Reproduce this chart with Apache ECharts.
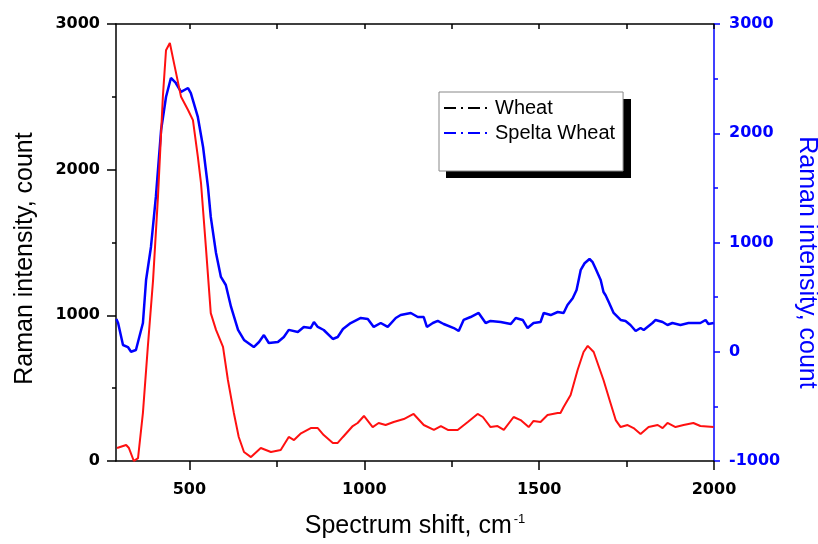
<!DOCTYPE html>
<html>
<head>
<meta charset="utf-8">
<script src="https://cdn.jsdelivr.net/npm/echarts@6/dist/echarts.min.js"></script>
<style>
  html, body { margin: 0; padding: 0; background: #fff; }
  #chart { width: 818px; height: 544px; }
</style>
</head>
<body>
<div id="chart"></div>
<script>
// Raman shift (cm-1) and intensity
const wheatShift = [293, 296, 319, 327, 341, 353, 367, 381, 396, 410, 424, 433, 444, 456, 476, 496, 510, 524, 533, 547,
  561, 576, 596, 610, 627, 641, 656, 676, 704, 733, 761, 784, 799, 819, 847, 867, 884, 910, 924, 939,
  967, 981, 999, 1024, 1041, 1061, 1084, 1113, 1141, 1170, 1199, 1219, 1239, 1267, 1296, 1324, 1339, 1361, 1381, 1399,
  1427, 1447, 1470, 1484, 1504, 1524, 1553, 1561, 1570, 1590, 1610, 1627, 1639, 1656, 1684, 1704, 1719, 1733, 1753, 1770,
  1790, 1813, 1839, 1853, 1867, 1890, 1913, 1941, 1961, 1999]
const wheatCount = [89, 96, 110, 89, 0, 20, 330, 783, 1242, 1813, 2500, 2820, 2870, 2730, 2500, 2410, 2340, 2090, 1910, 1470,
  1015, 900, 783, 556, 330, 165, 62, 27, 89, 62, 75, 165, 144, 190, 226, 226, 178, 124, 124, 165,
  240, 261, 309, 233, 261, 247, 268, 288, 323, 247, 213, 240, 213, 213, 268, 323, 302, 233, 240, 213,
  302, 281, 233, 275, 268, 316, 330, 330, 371, 453, 625, 748, 790, 748, 556, 398, 281, 233, 247, 226,
  185, 233, 247, 226, 261, 233, 247, 261, 240, 233]

const speltaShift = [291, 296, 310, 324, 333, 347, 367, 376, 390, 404, 419, 433, 447, 461, 476, 496, 504, 524, 539, 553,
  561, 576, 590, 604, 619, 639, 656, 684, 699, 713, 727, 753, 770, 784, 810, 827, 847, 856, 867, 884,
  910, 924, 939, 961, 990, 1010, 1027, 1047, 1067, 1090, 1104, 1133, 1153, 1170, 1179, 1196, 1210, 1227, 1256, 1270,
  1284, 1304, 1327, 1347, 1361, 1390, 1419, 1433, 1453, 1467, 1484, 1504, 1513, 1533, 1553, 1570, 1581, 1596, 1607, 1613,
  1619, 1630, 1644, 1653, 1661, 1676, 1684, 1690, 1699, 1713, 1733, 1747, 1761, 1776, 1790, 1799, 1824, 1833, 1853, 1867,
  1881, 1904, 1927, 1961, 1976, 1984, 1999]
const speltaCount = [300, 263, 62, 43, 0, 16, 263, 657, 959, 1417, 2030, 2332, 2506, 2460, 2378, 2414, 2368, 2149, 1874, 1508,
  1234, 904, 685, 611, 410, 200, 108, 43, 89, 153, 80, 89, 135, 200, 181, 227, 218, 272, 227, 199,
  117, 135, 208, 263, 309, 300, 227, 263, 227, 309, 336, 355, 318, 318, 227, 263, 282, 254, 217, 190,
  291, 318, 355, 263, 282, 272, 254, 309, 291, 217, 263, 272, 355, 336, 364, 355, 428, 490, 565, 657,
  750, 810, 849, 820, 764, 657, 547, 517, 455, 355, 291, 282, 245, 190, 217, 199, 263, 291, 272, 245,
  263, 245, 263, 263, 291, 254, 263]

const xMajor = [500, 1000, 1500, 2000]
const xMinor = [750, 1250, 1750]
const xAll = [500, 750, 1000, 1250, 1500, 1750, 2000]

const chart = echarts.init(document.getElementById('chart'), null, { renderer: 'canvas' })

const titleFont = 'Liberation Sans, Arial, sans-serif'
const tickFont = 'DejaVu Sans, sans-serif'
const blue = '#0000ff'
const red = '#ff1010'
const plain = (v) => String(v)

const pairs = (xs, ys) => xs.map((x, i) => [x, ys[i]])

chart.setOption({
  animation: false,
  backgroundColor: '#fff',
  grid: { left: 116, right: 104, top: 24, bottom: 83, outerBoundsMode: 'none', containLabel: false },
  // hard drop shadow behind the legend box
  graphic: [{
    type: 'rect', left: 446, top: 99, z: 1,
    shape: { width: 185, height: 79 },
    style: { fill: '#000' }
  }],
  legend: {
    orient: 'vertical',
    left: 439,
    top: 92,
    z: 10,
    padding: [6, 8, 28, 4],
    itemWidth: 48,
    itemHeight: 20,
    itemGap: 5,
    backgroundColor: '#fff',
    borderColor: '#888',
    borderWidth: 1,
    textStyle: { fontFamily: titleFont, fontSize: 20, color: '#000', padding: [0, 0, 0, -2] },
    data: [
      { name: 'Wheat', lineStyle: { color: '#000', width: 2, type: [12, 5, 2, 5] }, itemStyle: { opacity: 0 } },
      { name: 'Spelta Wheat', lineStyle: { color: blue, width: 2, type: [12, 5, 2, 5] }, itemStyle: { opacity: 0 } }
    ]
  },
  xAxis: [
    {
      type: 'value', position: 'bottom', min: 290, max: 2000,
      name: '{t|Spectrum shift, cm}{s|-1}',
      nameLocation: 'middle', nameGap: 52,
      nameTextStyle: {
        rich: {
          t: { fontFamily: titleFont, fontSize: 25, color: '#000' },
          s: { fontFamily: titleFont, fontSize: 13, color: '#000', verticalAlign: 'top', padding: [0, 0, 14, 2] }
        }
      },
      axisLine: { show: true, onZero: false, lineStyle: { color: '#000', width: 1.5 } },
      axisTick: { show: true, customValues: xMajor, length: 9, lineStyle: { color: '#000', width: 1.5 } },
      axisLabel: { customValues: xMajor, formatter: plain, margin: 21, fontFamily: tickFont, fontWeight: 'bold', fontSize: 16, color: '#000' },
      splitLine: { show: false }
    },
    {
      type: 'value', position: 'bottom', min: 290, max: 2000,
      axisLine: { show: false },
      axisTick: { show: true, customValues: xMinor, length: 6, lineStyle: { color: '#000', width: 1.5 } },
      axisLabel: { show: false },
      splitLine: { show: false }
    },
    {
      type: 'value', position: 'top', min: 290, max: 2000,
      axisLine: { show: true, onZero: false, lineStyle: { color: '#000', width: 1.5 } },
      axisTick: { show: true, inside: true, customValues: xAll, length: 5, lineStyle: { color: '#000', width: 1.5 } },
      axisLabel: { show: false },
      splitLine: { show: false }
    }
  ],
  yAxis: [
    {
      type: 'value', position: 'left', min: 0, max: 3000, interval: 1000,
      name: 'Raman intensity, count',
      nameLocation: 'middle', nameGap: 78, nameRotate: 90,
      nameTextStyle: { fontFamily: titleFont, fontSize: 25, color: '#000', padding: [0, 32, 0, 0] },
      axisLine: { show: true, onZero: false, lineStyle: { color: '#000', width: 1.5 } },
      axisTick: { show: true, length: 9, lineStyle: { color: '#000', width: 1.5 } },
      minorTick: { show: true, splitNumber: 2, length: 4, lineStyle: { color: '#000', width: 1.5 } },
      axisLabel: { formatter: plain, margin: 16, fontFamily: tickFont, fontWeight: 'bold', fontSize: 16, color: '#000' },
      splitLine: { show: false }
    },
    {
      type: 'value', position: 'right', min: -1000, max: 3000, interval: 1000,
      name: 'Raman intensity, count',
      nameLocation: 'middle', nameGap: 80, nameRotate: -90,
      nameTextStyle: { fontFamily: titleFont, fontSize: 25, color: blue, padding: [0, 0, 0, 40] },
      axisLine: { show: true, onZero: false, lineStyle: { color: blue, width: 1.5 } },
      axisTick: { show: true, length: 6, lineStyle: { color: blue, width: 1.5 } },
      minorTick: { show: true, splitNumber: 2, length: 4, lineStyle: { color: blue, width: 1.5 } },
      axisLabel: { formatter: plain, margin: 15, fontFamily: tickFont, fontWeight: 'bold', fontSize: 16, color: blue },
      splitLine: { show: false }
    }
  ],
  series: [
    {
      name: 'Wheat', type: 'line', xAxisIndex: 0, yAxisIndex: 0,
      data: pairs(wheatShift, wheatCount),
      showSymbol: false, symbol: 'none',
      lineStyle: { color: red, width: 2 }, itemStyle: { color: red },
      z: 3
    },
    {
      name: 'Spelta Wheat', type: 'line', xAxisIndex: 0, yAxisIndex: 1,
      data: pairs(speltaShift, speltaCount),
      showSymbol: false, symbol: 'none',
      lineStyle: { color: blue, width: 2.5 }, itemStyle: { color: blue },
      z: 2
    }
  ]
})
</script>
</body>
</html>
